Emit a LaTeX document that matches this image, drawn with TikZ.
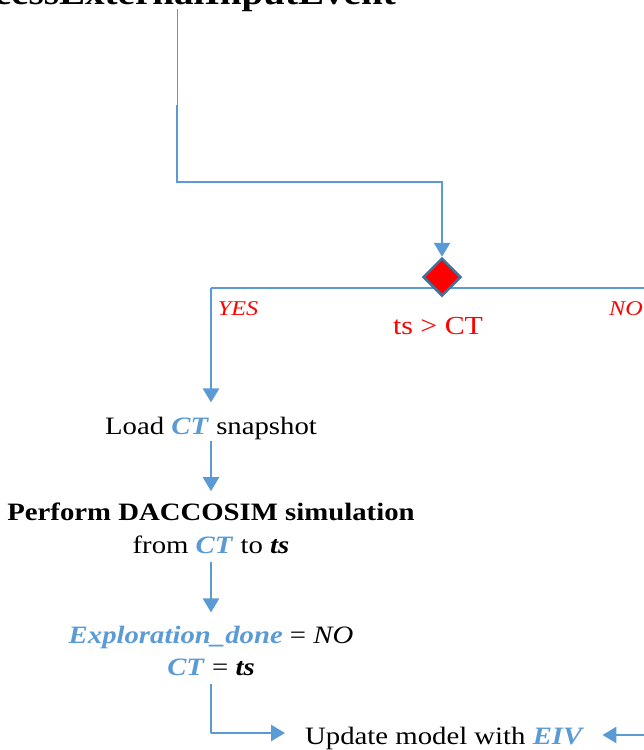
\documentclass[tikz,border=0pt]{standalone}
\usepackage{fontspec}
\setmainfont[FakeStretch=1.15]{Liberation Serif}
\usetikzlibrary{positioning, shapes.geometric, arrows.meta}
\definecolor{flowblue}{RGB}{91,155,213}
\definecolor{edgeblue}{RGB}{65,113,156}
\newcommand{\var}[1]{\textcolor{flowblue}{\textbf{\textit{#1}}}}

\begin{document}
\begin{tikzpicture}[
  x=1pt, y=-1pt,
  txt/.style={inner sep=0pt, anchor=base, font=\fontsize{25}{30}\selectfont},
  lbl/.style={inner sep=0pt, anchor=base, text=red, font=\fontsize{21}{25}\selectfont\itshape},
  cond/.style={diamond, draw=edgeblue, fill=red, line width=2.5pt, minimum width=38pt, minimum height=38pt, inner sep=0pt},
  flow/.style={draw=flowblue, line width=2.5pt},
  arrow/.style={flow, -{Triangle[width=16pt, length=14pt]}}
]
\useasboundingbox (0,0) rectangle (644,750);

% Entry
\node[txt, font=\fontsize{34}{40}\selectfont\bfseries, anchor=base east] (title) at (396,4) {processExternalInputEvent};
\coordinate (start) at (177,9);
\coordinate (turn) at (177,105);

% Test on time stamp
\coordinate (yes) at (211,288);
\coordinate (no) at (644,288);
\draw[flow] (no) -- (yes);
\node[cond] (test) at (442,277) {};
\node[txt, text=red, font=\fontsize{26}{30}\selectfont] (testlbl) at (438,334) {ts > CT};
\node[lbl] (yeslbl) at (238,315) {YES};
\node[lbl] (nolbl) at (626,315) {NO};

% YES branch
\node[txt] (load) at (211,434) {Load \var{CT} snapshot};
\node[txt, font=\fontsize{25}{30}\selectfont\bfseries] (sim) at (211,520) {Perform DACCOSIM simulation};
\node[txt] (simrange) at (211,553) {from \var{CT} to \textbf{\textit{ts}}};
\node[txt] (flag) at (211,643) {\var{Exploration\_done} = \textit{NO}};
\node[txt] (reset) at (211,675) {\var{CT} = \textbf{\textit{ts}}};

% Common end
\node[txt, anchor=base west] (update) at (305,744) {Update model with \var{EIV}};
\coordinate (corner) at (211,733);
\coordinate (back) at (644,735);

% Arrows
\draw[draw=flowblue, line width=1pt] (start) -- (turn);
\draw[arrow] (turn) -- ++(0,77) -| (test.north);
\draw[arrow, shorten >=14pt] (yes) -- (load);
\draw[arrow, shorten <=1pt, shorten >=11pt] (load) -- (sim);
\draw[arrow, shorten <=9pt, shorten >=13pt] (simrange) -- (flag);
\draw[flow, shorten <=9pt] (reset) -- (corner);
\draw[arrow, shorten >=20pt] (corner) -- (corner -| update.west);
\draw[arrow, shorten >=18pt] (back) -- (back -| update.east);

\end{tikzpicture}
\end{document}
